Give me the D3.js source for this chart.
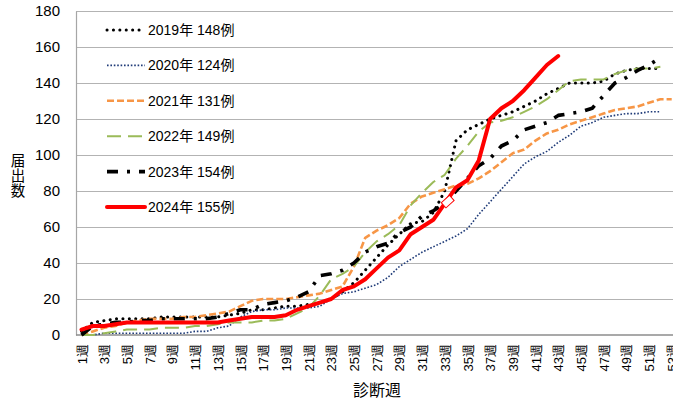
<!DOCTYPE html>
<html>
<head>
<meta charset="utf-8">
<script src="https://cdn.jsdelivr.net/npm/d3@7/dist/d3.min.js"></script>
<style>
  body { margin: 0; background: #fff; }
  svg { display: block; font-family: "Liberation Sans", "Noto Sans CJK JP", sans-serif; }
</style>
</head>
<body>
<div id="chart"></div>
<script>
// categories: diagnosis week 1..53
const weeks = d3.range(1, 54);
const weekTicks = weeks.filter((w) => w % 2 === 1);
const yTicks = [0, 20, 40, 60, 80, 100, 120, 140, 160, 180];

// cumulative reports per year
const s2019 = [2, 7, 8, 9, 9, 9, 9, 10, 10, 10, 10, 10, 10, 11, 12, 14, 14, 15, 16, 16,
  17, 18, 20, 24, 29, 36, 43, 50, 56, 62, 63, 68, 80, 108, 114, 117, 120, 122, 124, 127,
  130, 134, 137, 140, 140, 140, 141, 145, 147, 148, 148, 148];
const s2020 = [0, 0, 1, 1, 1, 1, 1, 1, 1, 1, 2, 2, 4, 5, 10, 13, 14, 14, 15, 15,
  15, 16, 20, 23, 24, 26, 28, 32, 38, 42, 46, 49, 52, 55, 59, 67, 74, 81, 88, 95,
  99, 102, 107, 111, 116, 118, 121, 122, 123, 123, 124, 124];
const s2021 = [0, 2, 4, 5, 7, 8, 9, 9, 9, 10, 10, 11, 12, 13, 16, 19, 20, 20, 20, 21,
  22, 23, 25, 27, 38, 54, 58, 61, 65, 73, 77, 79, 81, 83, 84, 87, 91, 96, 101, 103,
  108, 112, 114, 117, 119, 121, 123, 125, 126, 127, 129, 131, 131];
const s2022 = [0, 0, 1, 2, 3, 3, 3, 4, 4, 4, 5, 5, 6, 7, 7, 7, 8, 8, 9, 12,
  15, 22, 31, 34, 38, 46, 52, 56, 61, 72, 79, 85, 89, 98, 105, 113, 118, 119, 121, 124,
  127, 131, 136, 141, 142, 142, 142, 145, 147, 148, 148, 149];
const s2023 = [0, 5, 6, 7, 7, 8, 8, 9, 9, 9, 9, 9, 10, 12, 14, 14, 17, 18, 19, 21,
  24, 33, 34, 36, 40, 46, 49, 51, 57, 60, 66, 69, 73, 80, 87, 94, 98, 105, 108, 114,
  116, 118, 122, 123, 124, 126, 133, 140, 143, 147, 150, 154];
const s2024 = [3, 5, 5, 6, 7, 7, 7, 7, 7, 7, 7, 7, 7, 8, 9, 10, 10, 10, 11, 14,
  16, 18, 20, 25, 27, 31, 37, 43, 47, 56, 60, 64, 73, 82, 86, 97, 120, 126, 130, 136,
  143, 150, 155];

const labels = ["2019年 148例", "2020年 124例", "2021年 131例", "2022年 149例", "2023年 154例", "2024年 155例"];
const yTitleChars = ["届", "出", "数"];

// line styles per series
const series = [
  { label: labels[0], values: s2019, color: "#000", width: 3, dash: "0.1,6.3", cap: "round" },
  { label: labels[1], values: s2020, color: "#1f3b78", width: 1.6, dash: "1.6,1.8", cap: "butt" },
  { label: labels[2], values: s2021, color: "#f79646", width: 2.6, dash: "7,3", cap: "butt" },
  { label: labels[3], values: s2022, color: "#9bbb59", width: 2, dash: "14,7", cap: "butt" },
  { label: labels[4], values: s2023, color: "#000", width: 3.6, dash: "11,9,3,9", cap: "butt" },
  { label: labels[5], values: s2024, color: "#ff0000", width: 4, dash: null, cap: "round" },
];

const width = 673;
const height = 401;
const plotLeft = 76;
const plotTop = 11;
const plotBottom = 335;

const svg = d3.select("#chart")
  .append("svg")
  .attr("width", width)
  .attr("height", height);

svg.append("rect").attr("width", width).attr("height", height).attr("fill", "#fff");

const x = d3.scalePoint()
  .domain(weeks)
  .range([81.5, 81.5 + 52 * 11.35]);

const y = d3.scaleLinear()
  .domain([0, 180])
  .range([plotBottom, plotTop]);

// horizontal gridlines
const grid = svg.append("g")
  .attr("transform", `translate(${plotLeft},0)`)
  .call(d3.axisLeft(y).tickValues(yTicks.slice(1)).tickSize(-(width - plotLeft)).tickFormat(""));
grid.select(".domain").remove();
grid.selectAll("line").attr("stroke", "#b3b3b3").attr("stroke-width", 1.2);

// y axis
const yAxis = svg.append("g")
  .attr("transform", `translate(${plotLeft},0)`)
  .call(d3.axisLeft(y).tickValues(yTicks).tickSize(0).tickPadding(16));
yAxis.select(".domain").attr("stroke", "#a6a6a6").attr("stroke-width", 1.2);
yAxis.selectAll("text")
  .attr("fill", "#000")
  .style("font-size", "15px");

// x axis
const xAxis = svg.append("g")
  .attr("transform", `translate(0,${plotBottom})`)
  .call(d3.axisBottom(x).tickValues(weekTicks).tickSize(0).tickFormat((d) => `${d}週`));
xAxis.select(".domain").remove();
xAxis.append("line")
  .attr("x1", plotLeft).attr("x2", width)
  .attr("stroke", "#8c8c8c").attr("stroke-width", 1.4);
xAxis.selectAll(".tick text")
  .attr("fill", "#000")
  .style("font-size", "13px")
  .attr("text-anchor", "end")
  .attr("x", 0)
  .attr("y", 0)
  .attr("dy", "0.36em")
  .attr("transform", "translate(0,9) rotate(-90)");

// axis titles (y title stacked one character per row)
svg.append("g")
  .selectAll("text")
  .data(yTitleChars)
  .join("text")
  .attr("x", 18)
  .attr("y", (d, i) => 161 + i * 15)
  .attr("dy", "0.35em")
  .attr("text-anchor", "middle")
  .style("font-size", "14.5px")
  .attr("fill", "#000")
  .text((d) => d);

svg.append("text")
  .attr("x", 377)
  .attr("y", 396)
  .attr("text-anchor", "middle")
  .style("font-size", "16px")
  .attr("fill", "#000")
  .text("診断週");

// series lines
const line = d3.line()
  .x((d, i) => x(weeks[i]))
  .y((d) => y(d));

const linesGroup = svg.append("g");
series.forEach((s) => {
  linesGroup.append("path")
    .datum(s.values)
    .attr("fill", "none")
    .attr("stroke", s.color)
    .attr("stroke-width", s.width)
    .attr("stroke-dasharray", s.dash)
    .attr("stroke-linecap", s.cap)
    .attr("stroke-linejoin", "round")
    .attr("d", line);
});

// stray marker on the 2024 line (week 33)
linesGroup.append("rect")
  .attr("x", -5.5).attr("y", -3.5)
  .attr("width", 11).attr("height", 7)
  .attr("fill", "#fff")
  .attr("stroke", "#ff0000")
  .attr("stroke-width", 1)
  .attr("transform", `translate(${x(33) + 3},${y(s2024[32]) - 2}) rotate(-42)`);

// legend
const legend = svg.append("g");
series.forEach((s, i) => {
  const ly = 30 + i * 35.4;
  legend.append("line")
    .attr("x1", 107).attr("x2", 145)
    .attr("y1", ly).attr("y2", ly)
    .attr("stroke", s.color)
    .attr("stroke-width", s.width)
    .attr("stroke-dasharray", s.dash)
    .attr("stroke-linecap", s.cap);
  legend.append("text")
    .attr("x", 148)
    .attr("y", ly)
    .attr("dy", "0.36em")
    .style("font-size", "14px")
    .attr("fill", "#000")
    .text(s.label);
});
</script>
</body>
</html>
